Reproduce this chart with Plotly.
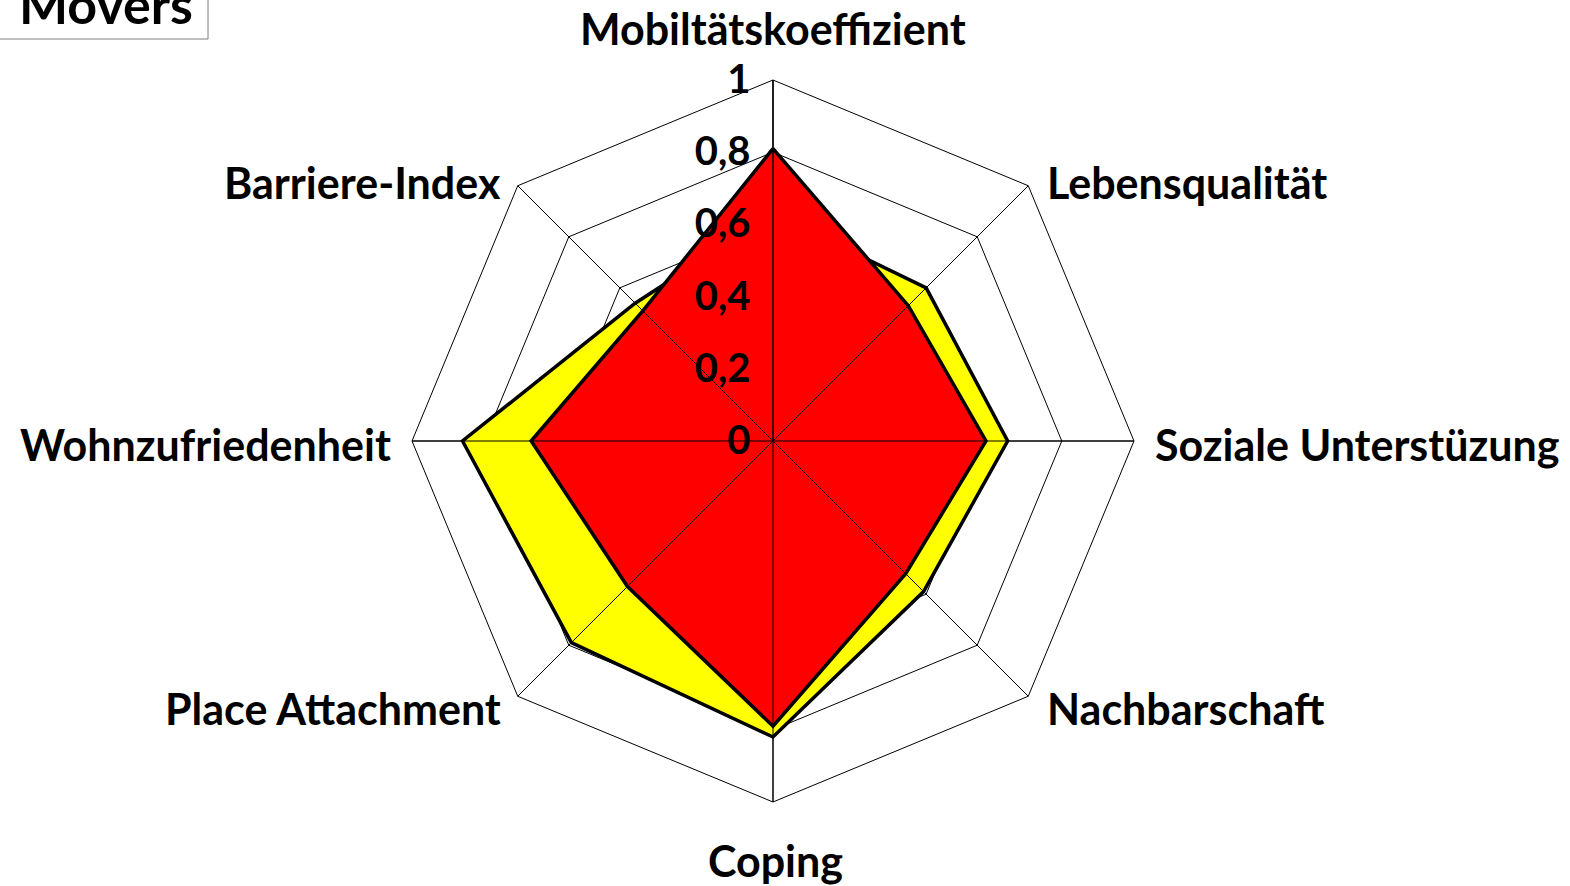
import plotly.graph_objects as go

categories = ["Mobiltätskoeffizient", "Lebensqualität", "Soziale Unterstüzung", "Nachbarschaft",
              "Coping", "Place Attachment", "Wohnzufriedenheit", "Barriere-Index"]
yellow_values = [0.63, 0.60, 0.65, 0.59, 0.82, 0.79, 0.86, 0.54]
red_values = [0.81, 0.53, 0.59, 0.52, 0.79, 0.57, 0.67, 0.51]
radial_ticks = [0, 0.2, 0.4, 0.6, 0.8, 1]
radial_ticktext = ["0", "0,2", "0,4", "0,6", "0,8", "1"]

W, H = 1570, 886
cx, cy, R = 773, 441, 361

fig = go.Figure()

# closing the polygons
fig.add_trace(go.Scatterpolar(
    r=yellow_values + yellow_values[:1], theta=categories + categories[:1],
    mode="lines", fill="toself", fillcolor="#FFFF00",
    line=dict(color="black", width=3.5), showlegend=False, name="A"))
fig.add_trace(go.Scatterpolar(
    r=red_values + red_values[:1], theta=categories + categories[:1],
    mode="lines", fill="toself", fillcolor="#FF0000",
    line=dict(color="black", width=3.5), showlegend=False, name="B"))

# spokes drawn over the fills like in the original
for c in categories:
    fig.add_trace(go.Scatterpolar(r=[0, 1], theta=[c, c], mode="lines",
                                  line=dict(color="black", width=1),
                                  showlegend=False, hoverinfo="skip"))

font_lbl = dict(family="Lato", size=43, color="black", weight="bold")
font_rad = dict(family="Lato", size=40, color="black", weight="bold")

# category labels sit beside the polygon corners (Excel style), placed in pixels
lbl_pos = [  # x, y, xanchor
    (773, 29, "center"), (1045, 182, "left"), (1153, 444, "left"), (1045, 708, "left"),
    (775, 860, "center"), (503, 708, "right"), (393, 444, "right"), (503, 182, "right"),
]
annos = []
for name, (px, py, xa) in zip(categories, lbl_pos):
    annos.append(dict(text=name, xref="paper", yref="paper", x=px / W, y=1 - py / H,
                      xanchor=xa, yanchor="middle", showarrow=False, font=font_lbl))
annos.append(dict(text="Movers", xref="paper", yref="paper",
                  x=106 / W, y=1 - 4 / H, xanchor="center", yanchor="middle",
                  showarrow=False,
                  font=dict(family="Lato", size=52, color="black", weight="bold")))

fig.update_layout(
    width=W, height=H,
    margin=dict(l=0, r=0, t=0, b=0),
    paper_bgcolor="white",
    showlegend=False,
    polar=dict(
        domain=dict(x=[(cx - R) / W, (cx + R) / W],
                    y=[(H - cy - R) / H, (H - cy + R) / H]),
        bgcolor="white",
        gridshape="linear",
        angularaxis=dict(
            direction="clockwise", rotation=90,
            showline=True, linecolor="black", linewidth=1,
            showgrid=True, gridcolor="black", gridwidth=1,
            showticklabels=False, ticks="",
        ),
        radialaxis=dict(
            range=[0, 1], angle=90, tickangle=90,
            tickvals=radial_ticks, ticktext=radial_ticktext,
            showline=True, linecolor="black", linewidth=1,
            showgrid=True, gridcolor="black", gridwidth=1,
            ticks="outside", ticklen=8, tickcolor="rgba(0,0,0,0)",
            side="counterclockwise",
            tickfont=font_rad,
        ),
    ),
    shapes=[dict(type="rect", xref="paper", yref="paper",
                 x0=-0.01, x1=208 / W, y0=1 - 39 / H, y1=1.05,
                 line=dict(color="#7f7f7f", width=1), fillcolor="white")],
    annotations=annos,
)

# page body has a default margin; drop it so the chart sits at the window corner
fig.write_html("out.html", config={"displayModeBar": False},
               post_script="document.body.style.margin='0';")
